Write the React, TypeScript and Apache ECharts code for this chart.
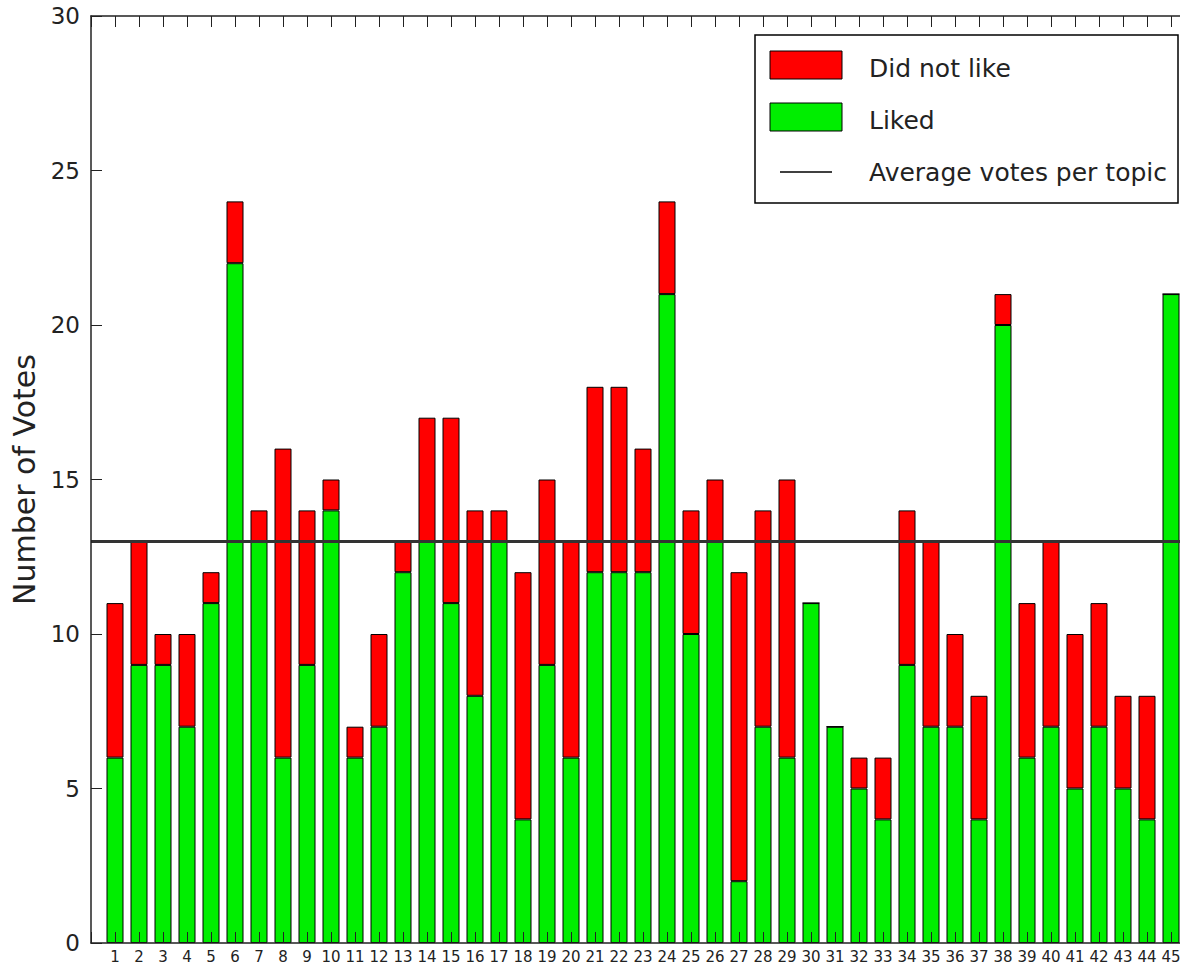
import React, { useEffect, useRef } from "react";
import * as echarts from "echarts";

const topics = [
  1, 2, 3, 4, 5, 6, 7, 8, 9, 10, 11, 12, 13, 14, 15, 16, 17, 18, 19, 20, 21, 22, 23,
  24, 25, 26, 27, 28, 29, 30, 31, 32, 33, 34, 35, 36, 37, 38, 39, 40, 41, 42, 43, 44, 45,
];
const liked = [
  6, 9, 9, 7, 11, 22, 13, 6, 9, 14, 6, 7, 12, 13, 11, 8, 13, 4, 9, 6, 12, 12, 12, 21, 10,
  13, 2, 7, 6, 11, 7, 5, 4, 9, 7, 7, 4, 20, 6, 7, 5, 7, 5, 4, 21,
];
const didNotLike = [
  5, 4, 1, 3, 1, 2, 1, 10, 5, 1, 1, 3, 1, 4, 6, 6, 1, 8, 6, 7, 6, 6, 4, 3, 4, 2, 10, 7, 9,
  0, 0, 1, 2, 5, 6, 3, 4, 1, 5, 6, 5, 4, 3, 4, 0,
];
const averageVotes = 13;
const yTicks = [0, 5, 10, 15, 20, 25, 30];
const seriesNames = ["Did not like", "Liked", "Average votes per topic"];

const FONT = "DejaVu Sans";
const GREEN = "#00ee00";
const RED = "#ff0000";
const INK = "#222222";

// x axis runs from 0 to 46 like the original (empty slots at both ends)
const xCategories = ["", ...topics.map(String), ""];

export default function App() {
  const ref = useRef<HTMLDivElement>(null);

  useEffect(() => {
    if (!ref.current) return;
    const chart = echarts.init(ref.current, undefined, { renderer: "svg" });
    const xAxisBase = {
      type: "category",
      data: xCategories,
      boundaryGap: false,
      z: 10,
      splitLine: { show: false },
      axisLine: { show: true, lineStyle: { color: INK, width: 1.5 } },
      axisTick: {
        show: true,
        inside: true,
        length: 11,
        interval: 0,
        lineStyle: { color: INK, width: 1 },
      },
    };
    const option = {
      animation: false,
      backgroundColor: "#ffffff",
      grid: { left: 91, top: 16, right: 25, bottom: 25 },
      xAxis: [
        {
          ...xAxisBase,
          position: "bottom",
          axisLabel: {
            show: true,
            interval: 0,
            margin: 6,
            fontSize: 15,
            fontFamily: FONT,
            color: INK,
          },
        },
        {
          ...xAxisBase,
          position: "top",
          axisLabel: { show: false },
        },
      ],
      yAxis: {
        type: "value",
        min: yTicks[0],
        max: yTicks[yTicks.length - 1],
        interval: 5,
        z: 10,
        name: "Number of Votes",
        nameLocation: "middle",
        nameRotate: 90,
        nameGap: 52,
        nameTextStyle: { fontSize: 30, fontFamily: FONT, color: INK },
        splitLine: { show: false },
        axisLine: { show: true, lineStyle: { color: INK, width: 1.5 } },
        axisTick: { show: true, inside: true, length: 11, lineStyle: { color: INK, width: 1 } },
        axisLabel: { margin: 11, fontSize: 23, fontFamily: FONT, color: INK },
      },
      series: [
        {
          name: seriesNames[1],
          type: "bar",
          stack: "votes",
          barWidth: 17,
          xAxisIndex: 0,
          data: liked.map((v, i) => [String(topics[i]), v]),
          itemStyle: { color: GREEN, borderColor: "#000", borderWidth: 1 },
          markLine: {
            silent: true,
            symbol: "none",
            label: { show: false },
            lineStyle: { type: "solid", color: "#333", width: 3 },
            data: [{ yAxis: averageVotes }],
          },
        },
        {
          name: seriesNames[0],
          type: "bar",
          stack: "votes",
          barWidth: 17,
          xAxisIndex: 0,
          data: didNotLike.map((v, i) => [String(topics[i]), v]),
          itemStyle: { color: RED, borderColor: "#000", borderWidth: 1 },
        },
      ],
      graphic: [
        {
          type: "group",
          z: 100,
          children: [
            {
              type: "rect",
              shape: { x: 755, y: 35, width: 423, height: 168 },
              style: { fill: "#fff", stroke: "#000", lineWidth: 1.5 },
            },
            {
              type: "rect",
              shape: { x: 770, y: 51, width: 72, height: 28 },
              style: { fill: RED, stroke: "#000", lineWidth: 1 },
            },
            {
              type: "text",
              x: 869,
              y: 68,
              style: { text: seriesNames[0], fontSize: 25, fontFamily: FONT, fill: INK, verticalAlign: "middle" },
            },
            {
              type: "rect",
              shape: { x: 770, y: 103, width: 72, height: 28 },
              style: { fill: GREEN, stroke: "#000", lineWidth: 1 },
            },
            {
              type: "text",
              x: 869,
              y: 120,
              style: { text: seriesNames[1], fontSize: 25, fontFamily: FONT, fill: INK, verticalAlign: "middle" },
            },
            {
              type: "line",
              shape: { x1: 780, y1: 172, x2: 832, y2: 172 },
              style: { stroke: "#000", lineWidth: 1.5 },
            },
            {
              type: "text",
              x: 869,
              y: 172,
              style: { text: seriesNames[2], fontSize: 25, fontFamily: FONT, fill: INK, verticalAlign: "middle" },
            },
          ],
        },
      ],
    };
    chart.setOption(option as any);
    return () => chart.dispose();
  }, []);

  return (
    <div
      style={{ position: "fixed", left: 0, top: 0, width: 1180, height: 968, overflow: "hidden", background: "#fff" }}
    >
      <div ref={ref} style={{ position: "absolute", left: 0, top: 0, width: 1220, height: 968 }} />
    </div>
  );
}
